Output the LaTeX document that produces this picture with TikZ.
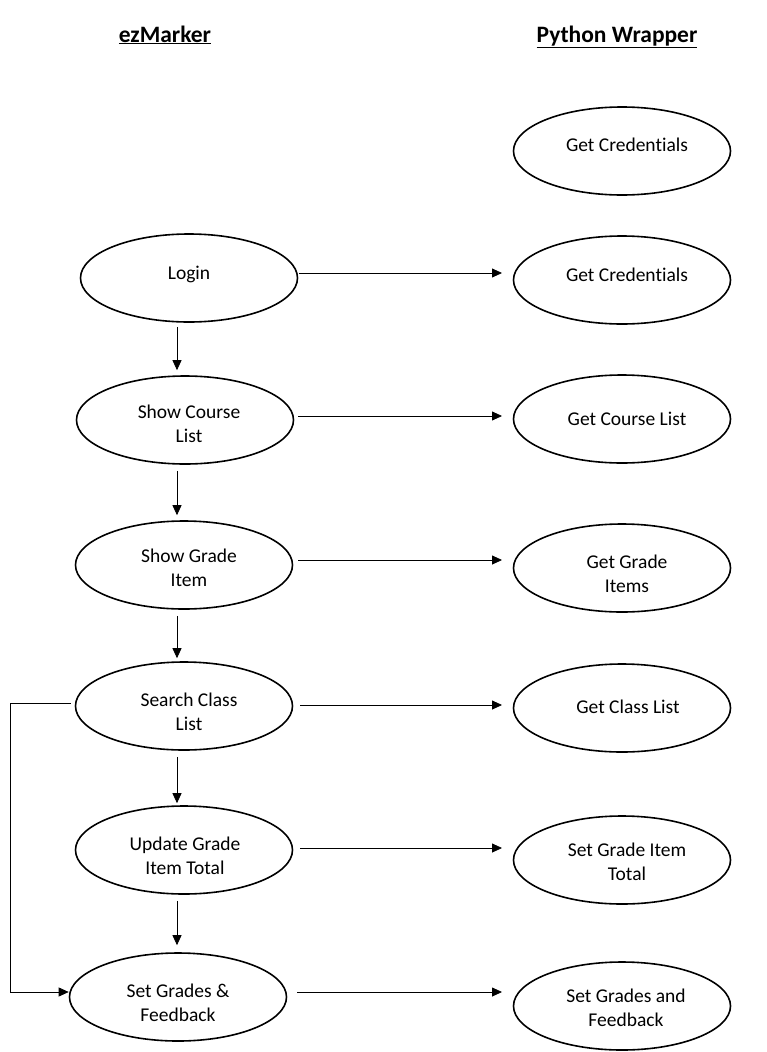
\documentclass[tikz,border=0pt]{standalone}
\usepackage{fontspec}
\setmainfont{Carlito}[Ligatures=NoCommon]
\usetikzlibrary{shapes.geometric,arrows.meta}
\begin{document}
\begin{tikzpicture}[x=1pt,y=-1pt,
  oval/.style={draw,ellipse,line width=1.6pt,minimum width=217pt,minimum height=88pt,inner sep=0pt},
  txt/.style 2 args={xshift=#1pt,yshift=#2pt,align=center,inner sep=0pt,font=\fontsize{19.5}{24}\selectfont},
  ttl/.style={anchor=base,font=\fontsize{23.5}{26}\selectfont\bfseries},
  arr/.style={line width=0.8pt,-{Triangle[length=10pt,width=9pt]}}]
\useasboundingbox (0,0) rectangle (766,1052);
\node[ttl] (t1) at (165,42) {\underline{ezMarker}};
\node[ttl] (t2) at (617,42) {\underline{Python Wrapper}};
\node[oval,label={[txt={5}{6}]center:Get Credentials}] (R1) at (622,151) {};
\node[oval,label={[txt={5}{5}]center:Get Credentials}] (R2) at (622,280) {};
\node[oval,label={[txt={5}{0}]center:Get Course List}] (R3) at (622,419) {};
\node[oval,label={[txt={5}{-6}]center:Get Grade\\Items}] (R4) at (622,568) {};
\node[oval,label={[txt={6}{1}]center:Get Class List}] (R5) at (622,708) {};
\node[oval,label={[txt={5}{-2}]center:Set Grade Item\\Total}] (R6) at (622,860) {};
\node[oval,label={[txt={4}{-2}]center:Set Grades and\\Feedback}] (R7) at (622,1006) {};
\node[oval,label={[txt={0}{4}]center:Login}] (L1) at (189,278) {};
\node[oval,label={[txt={4}{-4}]center:Show Course\\List}] (L2) at (185,420) {};
\node[oval,label={[txt={5}{-3}]center:Show Grade\\Item}] (L3) at (184,565) {};
\node[oval,label={[txt={5}{-6}]center:Search Class\\List}] (L4) at (184,706) {};
\node[oval,label={[txt={1}{-6}]center:Update Grade\\Item Total}] (L5) at (184,850) {};
\node[oval,label={[txt={0}{-6}]center:Set Grades \&\\Feedback}] (L6) at (178,997) {};
\coordinate (X) at (177,0);
\coordinate (K) at (10,0);
\coordinate (E) at (502,0);
\draw[arr,shorten <=4pt,shorten >=5pt] (L1.south -| X) -- (L2.north -| X);
\draw[arr,shorten <=6pt,shorten >=5pt] (L2.south -| X) -- (L3.north -| X);
\draw[arr,shorten <=6pt,shorten >=3pt] (L3.south -| X) -- (L4.north -| X);
\draw[arr,shorten <=6pt,shorten >=2pt] (L4.south -| X) -- (L5.north -| X);
\draw[arr,shorten <=6pt,shorten >=7pt] (L5.south -| X) -- (L6.north -| X);
\draw[arr] ([xshift=1pt,yshift=5pt]L1.east) -- ([yshift=5pt]L1.east -| E);
\draw[arr] ([xshift=4pt,yshift=4pt]L2.east) -- ([yshift=4pt]L2.east -| E);
\draw[arr] ([xshift=5pt,yshift=5pt]L3.east) -- ([yshift=5pt]L3.east -| E);
\draw[arr] ([xshift=7pt,yshift=1pt]L4.east) -- ([yshift=1pt]L4.east -| E);
\draw[arr] ([xshift=7pt,yshift=2pt]L5.east) -- ([yshift=2pt]L5.east -| E);
\draw[arr] ([xshift=10pt,yshift=5pt]L6.east) -- ([yshift=5pt]L6.east -| E);
\draw[line width=0.8pt] ([xshift=-4pt,yshift=3pt]L4.west) -- ([yshift=3pt]L4.west -| K) -- ([yshift=5pt]L6.west -| K);
\draw[arr] ([yshift=5pt]L6.west -| K) -- ([yshift=5pt]L6.west);
\end{tikzpicture}
\end{document}
